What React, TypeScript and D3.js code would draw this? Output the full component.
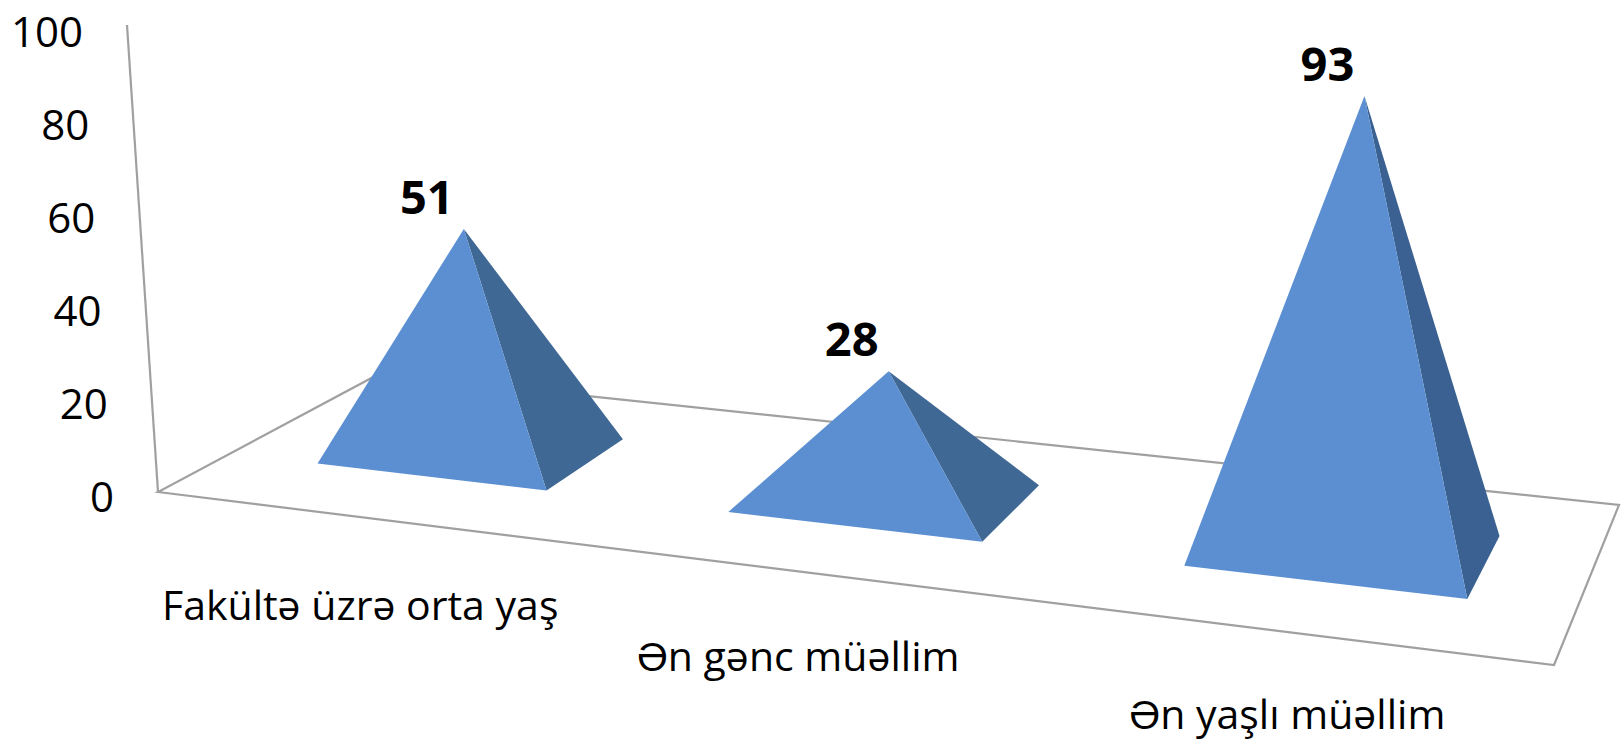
import React from 'react';
import * as d3 from 'd3';

const categories = ['Fakültə üzrə orta yaş', 'Ən gənc müəllim', 'Ən yaşlı müəllim'];
const values = [51, 28, 93];
const yTicks = [0, 20, 40, 60, 80, 100];

const WIDTH = 1622;
const HEIGHT = 741;
const FONT = '"Open Sans", sans-serif';
const LINE = '#a0a0a0';
const FRONT = '#5b8fd1';
const SIDE = ['#3f6895', '#3f6895', '#3a6191'];

// floor corners in the picture, u runs along the categories, v into the depth
const A = [158, 492];
const B = [1554, 665];
const C = [1619, 505];
const D = [379, 374];

type Pt = [number, number];

// Unit square -> floor quad
const sx = A[0] - B[0] + C[0] - D[0];
const sy = A[1] - B[1] + C[1] - D[1];
const dx1 = B[0] - C[0];
const dx2 = D[0] - C[0];
const dy1 = B[1] - C[1];
const dy2 = D[1] - C[1];
const den = dx1 * dy2 - dx2 * dy1;
const g = (sx * dy2 - dx2 * sy) / den;
const h = (dx1 * sy - sx * dy1) / den;

const floor = (u: number, v: number): Pt => {
  const w = g * u + h * v + 1;
  return [
    ((B[0] - A[0] + g * B[0]) * u + (D[0] - A[0] + h * D[0]) * v + A[0]) / w,
    ((B[1] - A[1] + g * B[1]) * u + (D[1] - A[1] + h * D[1]) * v + A[1]) / w,
  ];
};

const band = d3.scaleBand<string>().domain(categories).range([0, 1]).paddingInner(0.43).paddingOuter(0.215);
const depth = d3.scaleLinear().domain([0, 1]).range([0.305, 0.71]);

// Pixels per unit and the vertical lean both change across the floor
const centers = categories.map(c => band(c)! + band.bandwidth() / 2);
const unitPx = d3.scaleLinear().domain(centers).range([4.36, 4.54, 4.89]);
const lean = d3.scaleLinear().domain(centers).range([-0.037, 0.024, 0.045]);
const labelDrop = d3.scaleLinear().domain(centers).range([103, 100, 97]);

const wallY = d3.scaleLinear().domain([0, 100]).range([492, 25]);
const wallX = d3.scaleLinear().domain([0, 100]).range([158, 127]);
const tickY = d3.scaleLinear().domain([0, 100]).range([495, 30]);
const tickX = d3.scaleLinear().domain([0, 100]).range([114, 83]);

const poly = d3.line<Pt>().curve(d3.curveLinearClosed);

const App: React.FC = () => (
  <svg width={WIDTH} height={HEIGHT} style={{ position: 'absolute', left: 0, top: 0, display: 'block', background: '#fff' }}>
    <path d={poly([A, B, C, D] as Pt[])!} fill="none" stroke={LINE} strokeWidth={2.2} />
    <line x1={wallX(0)} y1={wallY(0)} x2={wallX(100)} y2={wallY(100)} stroke={LINE} strokeWidth={2.2} />

    {yTicks.map(t => (
      <text key={t} x={tickX(t)} y={tickY(t)} textAnchor="end" dominantBaseline="central"
        fontFamily={FONT} fontSize={42} fill="#000">{t}</text>
    ))}

    {categories.map((c, i) => {
      const u0 = band(c)!;
      const u1 = u0 + band.bandwidth();
      const uc = centers[i];
      const fl = floor(u0, depth(0));
      const fr = floor(u1, depth(0));
      const br = floor(u1, depth(1));
      const mid = floor(uc, depth(0.5));
      const rise = values[i] * unitPx(uc);
      const apex: Pt = [mid[0] + rise * lean(uc), mid[1] - rise];
      const front = floor(uc, 0);
      return (
        <g key={c}>
          <g transform="translate(3,1)">
            <path d={poly([fr, br, apex])!} fill={SIDE[i]} />
            <path d={poly([fl, fr, apex])!} fill={FRONT} />
            <text x={apex[0] - 37} y={apex[1] - 15} textAnchor="middle"
              fontFamily={FONT} fontSize={47} fontWeight={700} fill="#000">{values[i]}</text>
          </g>
          <text x={front[0]} y={front[1] + labelDrop(uc)} textAnchor="middle"
            fontFamily={FONT} fontSize={41} fill="#000">{c}</text>
        </g>
      );
    })}
  </svg>
);

export default App;
